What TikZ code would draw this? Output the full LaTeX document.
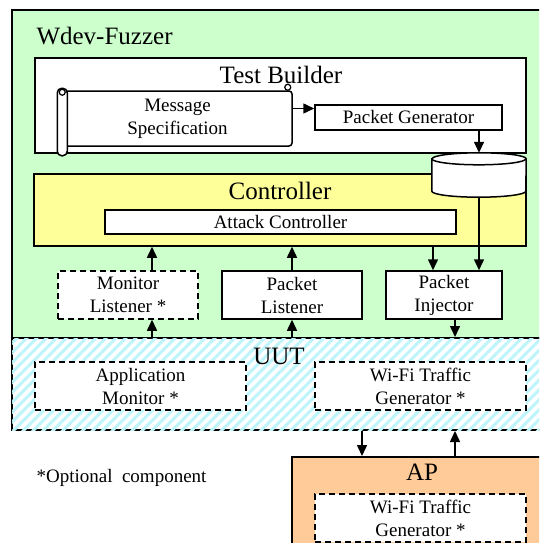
\documentclass[tikz,border=0pt]{standalone}
\usepackage{fontspec}
\setmainfont{Liberation Serif}
\usetikzlibrary{shapes.geometric,positioning,arrows.meta,patterns.meta}
\definecolor{fuzzgreen}{RGB}{204,255,204}
\definecolor{ctrlyellow}{RGB}{255,255,153}
\definecolor{aporange}{RGB}{255,204,153}
\definecolor{uutcyan}{RGB}{190,245,250}

\begin{document}
\begin{tikzpicture}[
  x=1pt,y=-1pt,
  >={Triangle[width=10pt,length=11pt]},
  area/.style={draw,line width=2pt,inner sep=0pt},
  part/.style={draw,fill=white,line width=1.5pt,inner sep=0pt,align=center,
    font=\fontsize{19}{23}\selectfont},
  optional/.style={part,dashed,dash pattern=on 6pt off 4pt},
  title/.style={anchor=base,font=\fontsize{25}{28}\selectfont},
  flow/.style={->,line width=1.5pt}
]
  \useasboundingbox (0,0) rectangle (539,543);
  \clip (0,0) rectangle (539,543);

  % outer areas
  \node[area,fill=fuzzgreen,minimum width=548pt,minimum height=328pt] (fuzzer) at (286,174) {};
  \node[area,fill=white,minimum width=548pt,minimum height=92pt,
    postaction={pattern={Lines[angle=45,distance=7pt,line width=3pt]},pattern color=uutcyan}] (uut) at (286,384) {};
  \node[area,fill=aporange,minimum width=268pt,minimum height=120pt] (ap) at (426,517) {};

  \node[title,anchor=base west] (fuzzertitle) at (33,45) {Wdev-Fuzzer};
  \node[title] (uuttitle) at (279,364) {UUT};
  \node[title] (aptitle) at (422,480) {AP};

  % test builder
  \node[area,line width=1.5pt,fill=white,minimum width=491pt,minimum height=95pt] (builder) at (280.5,105.5) {};
  \node[title] (buildertitle) at (281,83) {Test Builder};
  \node[part,rounded corners=3pt,minimum width=229pt,minimum height=55pt] (spec) at (177.5,118.5) {Message\\Specification};
  \draw[fill=white,line width=1.5pt,rounded corners=4.5pt]
    ([xshift=-5pt,yshift=2pt]spec.north west) rectangle ([xshift=5pt,yshift=-9pt]spec.south west);
  \draw[fill=white,line width=1.2pt] ([yshift=-2pt]spec.north west) circle (3pt);
  \draw[fill=white,line width=1.2pt] ([xshift=-5pt,yshift=3pt]spec.north east) circle (3pt);
  \node[part,minimum width=187pt,minimum height=25pt] (pktgen) at (408.5,117.5) {Packet Generator};

  % controller
  \node[area,line width=1.5pt,fill=ctrlyellow,minimum width=492pt,minimum height=72pt] (ctrl) at (280,210) {};
  \node[title] (ctrltitle) at (280,199) {Controller};
  \node[part,minimum width=351pt,minimum height=24pt] (attack) at (280.5,222) {Attack Controller};
  % packet store (cylinder)
  \node[inner sep=0pt,minimum width=94pt,minimum height=32pt] (db) at (479,175) {};
  \draw[fill=white,line width=1.5pt] (db.north west) -- (db.south west)
    arc[start angle=180,end angle=360,x radius=47pt,y radius=6pt] -- (db.north east)
    arc[start angle=0,end angle=180,x radius=47pt,y radius=6pt] -- cycle;
  \draw[line width=1.5pt] (db.north west) arc[start angle=180,end angle=360,x radius=47pt,y radius=6pt];

  % listeners and injector
  \node[optional,minimum width=140pt,minimum height=48pt] (monl) at (128,295) {Monitor\\Listener *};
  \node[part,minimum width=140pt,minimum height=48pt] (pktl) at (292,295) {Packet\\Listener};
  \node[part,minimum width=116pt,minimum height=48pt] (inj) at (444,295) {Packet\\Injector};

  % UUT and AP parts
  \node[optional,minimum width=211pt,minimum height=48pt] (appmon) at (140.5,386) {Application\\Monitor *};
  \node[optional,minimum width=211pt,minimum height=48pt] (uuttraffic) at (420.5,386) {Wi-Fi Traffic\\Generator *};
  \node[optional,minimum width=211pt,minimum height=48pt] (aptraffic) at (420.5,518) {Wi-Fi Traffic\\Generator *};

  \node[anchor=base west,font=\fontsize{19}{23}\selectfont] (note) at (33,482) {*Optional\ \ component};

  % connectors
  \draw[flow] ([yshift=10pt]spec.east) -- ([yshift=10pt]spec.east -| pktgen.west);
  \draw[flow] (pktgen.south -| db.center) -- ([yshift=6pt]db.north);
  \draw[flow] ([yshift=-6pt]db.south) -- (db.south |- inj.north);
  \draw[flow] ([xshift=-11pt]inj.north |- ctrl.south) -- ([xshift=-11pt]inj.north);
  \draw[flow] ([xshift=24pt]monl.north) -- ([xshift=24pt]monl.north |- ctrl.south);
  \draw[flow] (pktl.north) -- (pktl.north |- ctrl.south);
  \draw[flow] ([xshift=24pt]monl.south |- uut.north) -- ([xshift=24pt]monl.south);
  \draw[flow] (pktl.south |- uut.north) -- (pktl.south);
  \draw[flow] ([xshift=11pt]inj.south) -- ([xshift=11pt]inj.south |- uut.north);
  \draw[flow] (uut.south -| 362,0) -- (ap.north -| 362,0);
  \draw[flow] (ap.north -| 455,0) -- (uut.south -| 455,0);
\end{tikzpicture}
\end{document}
